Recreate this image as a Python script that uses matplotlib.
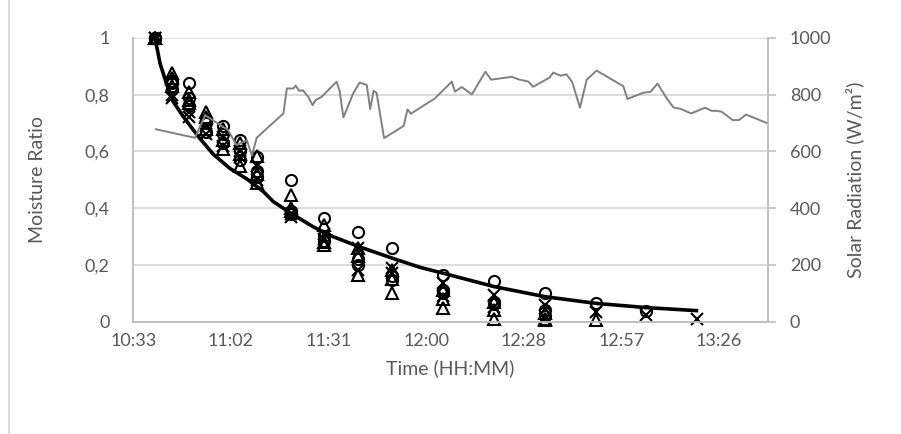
import numpy as np
import matplotlib
matplotlib.use('Agg')
import matplotlib.pyplot as plt
from matplotlib.lines import Line2D

# drying samples, read at each weighing time
sample_times = ["10:40", "10:45", "10:50", "10:55", "11:00", "11:05", "11:10", "11:20", "11:30",
                "11:40", "11:50", "12:05", "12:20", "12:35", "12:50", "13:05", "13:20"]
nan = np.nan
circle_a   = [1, 0.84, 0.84, 0.71, 0.69, 0.64, 0.58, 0.50, 0.365, 0.317, 0.258, 0.164, 0.143, 0.102, 0.064, 0.037, nan]
triangle_a = [1, 0.875, 0.81, 0.74, 0.68, 0.63, 0.585, 0.446, 0.34, 0.26, 0.18, 0.11, 0.07, 0.03, nan, nan, nan]
cross_a    = [1, 0.79, 0.72, 0.69, 0.65, 0.60, 0.55, 0.38, 0.31, 0.26, 0.188, 0.135, 0.094, 0.058, 0.035, 0.023, 0.008]
circle_b   = [1, 0.82, 0.76, 0.67, 0.63, 0.57, 0.51, 0.38, 0.285, 0.20, 0.146, 0.10, 0.06, 0.02, nan, nan, nan]
cross_b    = [1, 0.80, 0.74, 0.66, 0.62, 0.58, 0.50, 0.37, 0.29, 0.18, 0.17, 0.09, 0.05, 0.01, nan, nan, nan]
triangle_b = [1, 0.86, 0.78, 0.68, 0.61, 0.55, 0.49, 0.40, 0.27, 0.164, 0.10, 0.046, 0.008, 0.005, 0.005, nan, nan]
circle_c   = [1, 0.85, 0.79, 0.70, 0.66, 0.60, 0.53, 0.39, 0.30, 0.22, 0.16, 0.11, 0.07, 0.04, nan, nan, nan]
triangle_c = [1, 0.83, 0.77, 0.72, 0.64, 0.59, 0.52, 0.39, 0.28, 0.23, 0.15, 0.08, 0.04, 0.01, nan, nan, nan]

# fitted drying curve (minutes after 10:00)
fit_min = [40.0, 41.5, 43.5, 45.4, 48.4, 52.8, 57.2, 62.1, 67.1, 72.0, 74.9, 79.8, 86.7, 92.6,
           100.2, 110.1, 118.2, 125.1, 140.1, 155.1, 170.1, 185.0, 200.3]
fit_mr = [1.0, 0.91, 0.835, 0.775, 0.722, 0.652, 0.59, 0.54, 0.503, 0.458, 0.423, 0.384, 0.334, 0.299,
          0.264, 0.223, 0.191, 0.17, 0.123, 0.0875, 0.064, 0.049, 0.038]

# solar radiation (minutes after 10:00, W/m2)
sun_min = [40.3, 51.8, 54.8, 59.2, 61.5, 64.1, 67.1, 68.6, 70.0, 77.9, 78.9, 80.8, 81.5, 82.6, 83.6,
           85.2, 86.5, 87.4, 89.2, 93.6, 94.5, 95.6, 98.5, 100.4, 102.5, 103.5, 104.5, 105.4, 107.6,
           113.4, 114.5, 115.5, 122.6, 127.6, 128.5, 130.5, 133.5, 137.5, 139.2, 145.3, 147.3, 150.2,
           151.6, 156.4, 157.5, 159.7, 161.4, 163.1, 165.4, 167.4, 170.3, 178.2, 179.4, 184.1, 186.2,
           188.3, 191.0, 193.0, 195.1, 198.2, 202.3, 204.3, 205.8, 207.2, 210.5, 212.4, 214.4, 220.8]
sun_val = [678, 648, 728, 693, 676, 622, 640, 585, 648, 734, 822, 822, 832, 813, 816, 793, 763, 781,
           793, 846, 812, 720, 805, 843, 834, 749, 814, 806, 647, 690, 748, 733, 787, 846, 811, 827,
           801, 881, 853, 863, 854, 846, 828, 860, 878, 867, 872, 845, 754, 853, 885, 830, 785, 807,
           810, 839, 787, 755, 750, 734, 754, 743, 743, 740, 710, 711, 730, 699]

x_tick_days = [0.44, 0.46, 0.48, 0.50, 0.52, 0.54, 0.56]
x_tick_labels = ["10:33", "11:02", "11:31", "12:00", "12:28", "12:57", "13:26"]
mr_ticks = [0, 0.2, 0.4, 0.6, 0.8, 1.0]
mr_tick_labels = ["0", "0,2", "0,4", "0,6", "0,8", "1"]
sun_ticks = [0, 200, 400, 600, 800, 1000]

GRID = '#D9D9D9'; AXC = '#BFBFBF'; TXT = '#595959'
plt.rcParams['font.family'] = ['Lato', 'DejaVu Sans']

def hm(s):
    h, m = s.split(':'); return int(h)*60 + int(m)

t_samp = [hm(s) for s in sample_times]
t_fit = [600 + m for m in fit_min]
t_sun = [600 + m for m in sun_min]

fig = plt.figure(figsize=(9.01, 4.34), dpi=100)
ax = fig.add_axes([133.3/901, 1-321.5/434, (767.7-133.3)/901, (321.5-38)/434])
ax2 = ax.twinx()

mk = dict(linestyle='none', color='black', markerfacecolor='none', markeredgewidth=1.5, markersize=8)
for ys, m in [(triangle_b, '^'), (cross_b, 'x'), (circle_b, 'o'), (triangle_c, '^'), (circle_c, 'o'),
              (cross_a, 'x'), (triangle_a, '^'), (circle_a, 'o')]:
    ax.plot(t_samp, ys, marker=m, zorder=3, clip_on=False, **mk)
ax.plot(t_fit, fit_mr, color='black', lw=2.6, solid_capstyle='butt', zorder=4)

ax2.plot(t_sun, sun_val, color='#808080', lw=1.4, zorder=2)

x_ticks = [d*1440 for d in x_tick_days]
ax.set_xlim(0.44*1440, 0.57*1440)
ax.set_xticks(x_ticks); ax.set_xticklabels(x_tick_labels, fontsize=13, color=TXT)
ax.set_ylim(0, 1)
ax.set_yticks(mr_ticks); ax.set_yticklabels(mr_tick_labels, fontsize=13, color=TXT)
ax2.set_ylim(0, 1000)
ax2.set_yticks(sun_ticks); ax2.set_yticklabels([str(v) for v in sun_ticks], fontsize=13, color=TXT)

ax.yaxis.grid(True, color=GRID, lw=1.3); ax.set_axisbelow(True)
ax.tick_params(axis='y', length=0, pad=17)
ax.tick_params(axis='x', length=0, pad=8)
ax2.tick_params(axis='y', length=6, width=1.2, color=AXC, pad=10)

for a in (ax, ax2):
    a.spines['top'].set_visible(False)
    for s in ('left', 'right', 'bottom'):
        a.spines[s].set_color(AXC); a.spines[s].set_linewidth(1.3)

ax.set_xlabel('Time (HH:MM)', fontsize=14, color=TXT, labelpad=8)
ax.set_ylabel('Moisture Ratio', fontsize=14, color=TXT, labelpad=28)
ax2.set_ylabel('Solar Radiation (W/m²)', fontsize=14, color=TXT, labelpad=10)

# chart frame edge on the left
fig.add_artist(Line2D([9/901, 9/901], [0, 1], color=GRID, lw=1.3, transform=fig.transFigure))

fig.savefig('out.png', dpi=100, facecolor='white')
